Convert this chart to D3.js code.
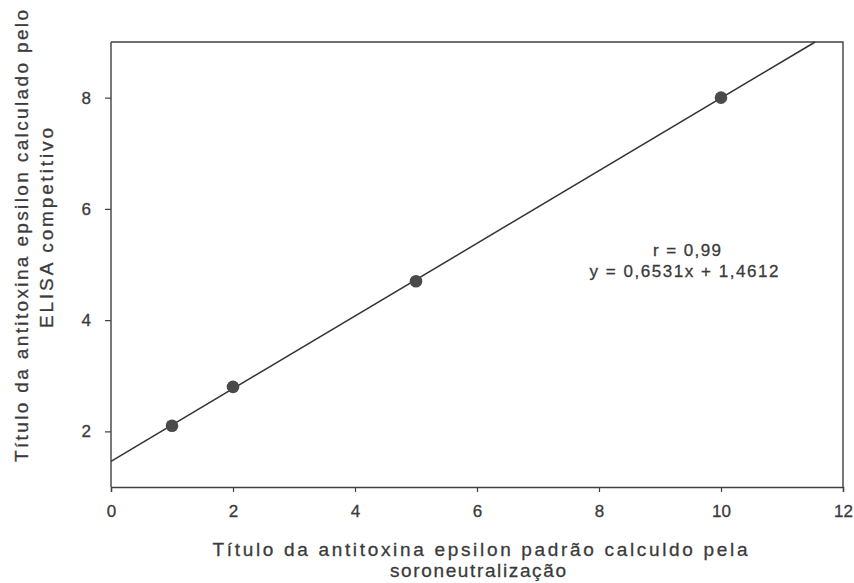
<!DOCTYPE html>
<html>
<head>
<meta charset="utf-8">
<script src="https://cdn.jsdelivr.net/npm/d3@7"></script>
<style>
  html, body { margin: 0; padding: 0; background: #ffffff; }
  svg { display: block; }
  text { font-family: "Liberation Sans", Arial, sans-serif; fill: #3a3a3a; stroke: #3a3a3a; stroke-width: 0.3px; }
</style>
</head>
<body>
<svg id="chart" width="854" height="583"></svg>
<script>
// Titration data: reference (seroneutralization) vs competitive ELISA
const neutralizationTiter = [1, 2, 5, 10];
const elisaTiter = [2.1, 2.8, 4.7, 8.0];

// Fitted regression
const slope = 0.6531;
const intercept = 1.4612;
const annotationLines = ["r = 0,99", "y = 0,6531x + 1,4612"];

const xTicks = [0, 2, 4, 6, 8, 10, 12];
const yTicks = [2, 4, 6, 8];
const xDomain = [0, 12];
const yDomain = [1, 9];

const xTitle = ["Título da antitoxina epsilon padrão calculdo pela", "soroneutralização"];
const yTitle = ["Título da antitoxina epsilon calculado pelo", "ELISA competitivo"];

const svg = d3.select("#chart");
const margin = { left: 111, right: 11, top: 42, bottom: 96 };
const W = 854, H = 583;

const x = d3.scaleLinear().domain(xDomain).range([margin.left, W - margin.right]);
const y = d3.scaleLinear().domain(yDomain).range([H - margin.bottom, margin.top]);

const ink = "#404040";

// Frame: top and right borders
svg.append("path")
  .attr("d", `M${x(0)},${y(9)}H${x(12)}V${y(1)}`)
  .attr("fill", "none").attr("stroke", ink).attr("stroke-width", 1.4);

// Bottom axis
const gx = svg.append("g")
  .attr("transform", `translate(0,${y(1)})`)
  .call(d3.axisBottom(x).tickValues(xTicks).tickSize(5).tickPadding(13).tickFormat(d3.format("d")));
gx.select(".domain").attr("stroke", ink).attr("stroke-width", 1.4);
gx.selectAll(".tick line").attr("stroke", ink).attr("stroke-width", 1.2);
gx.selectAll(".tick text").style("font-size", "17px");

// Left axis
const gy = svg.append("g")
  .attr("transform", `translate(${x(0)},0)`)
  .call(d3.axisLeft(y).tickValues(yTicks).tickSize(6).tickPadding(14).tickFormat(d3.format("d")));
gy.select(".domain").attr("stroke", ink).attr("stroke-width", 1.4)
  .attr("d", `M0,${y(9)}V${y(1)}`);
gy.selectAll(".tick line").attr("stroke", ink).attr("stroke-width", 1.2);
gy.selectAll(".tick text").style("font-size", "17px");

// Regression line, clipped to the plot frame
const xEnd = (yDomain[1] - intercept) / slope;
svg.append("line")
  .attr("x1", x(0)).attr("y1", y(intercept))
  .attr("x2", x(xEnd)).attr("y2", y(yDomain[1]))
  .attr("stroke", "#333").attr("stroke-width", 1.5);

// Observed points
svg.selectAll("circle.pt")
  .data(neutralizationTiter.map((v, i) => [v, elisaTiter[i]]))
  .enter().append("circle")
  .attr("class", "pt")
  .attr("cx", d => x(d[0]))
  .attr("cy", d => y(d[1]))
  .attr("r", 6.3)
  .attr("fill", "#4a4a4a");

// Regression annotation
const ann = svg.append("text").attr("text-anchor", "middle").style("font-size", "17px");
ann.append("tspan").attr("x", 687).attr("y", 256).attr("textLength", 68).attr("lengthAdjust", "spacing").text(annotationLines[0]);
ann.append("tspan").attr("x", 684).attr("y", 277).attr("textLength", 189).attr("lengthAdjust", "spacing").text(annotationLines[1]);

// Axis titles
const xt = svg.append("text").attr("text-anchor", "middle").style("font-size", "19px");
xt.append("tspan").attr("x", 480).attr("y", 556).attr("textLength", 535).attr("lengthAdjust", "spacing").text(xTitle[0]);
xt.append("tspan").attr("x", 478).attr("y", 577).attr("textLength", 176).attr("lengthAdjust", "spacing").text(xTitle[1]);

const yt = svg.append("text").attr("text-anchor", "middle").style("font-size", "19px")
  .attr("transform", "rotate(-90)");
yt.append("tspan").attr("x", -236).attr("y", 28).attr("textLength", 452).attr("lengthAdjust", "spacing").text(yTitle[0]);
yt.append("tspan").attr("x", -228).attr("y", 53).attr("textLength", 200).attr("lengthAdjust", "spacing").text(yTitle[1]);
</script>
</body>
</html>
